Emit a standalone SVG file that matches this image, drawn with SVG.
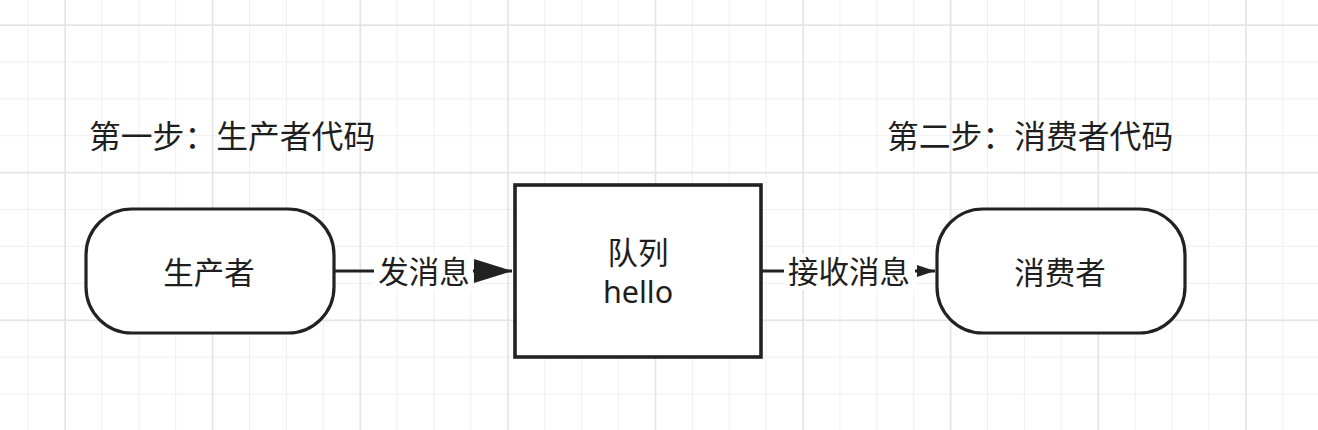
<svg xmlns="http://www.w3.org/2000/svg" width="1318" height="430" viewBox="0 0 1318 430">
<style>
.node{fill:#ffffff;stroke:#222222;stroke-width:3.2}
.t{font-family:"Noto Sans","Noto Sans CJK SC",sans-serif;font-size:30.5px;fill:#1e1e1e;text-anchor:middle}
.title{font-family:"Noto Sans CJK SC",sans-serif;font-size:31.8px;fill:#1e1e1e}
.edge{stroke:#222222;stroke-width:3;fill:none}
.lbg{fill:#ffffff}
</style>
<defs>
<pattern id="minor" patternUnits="userSpaceOnUse" x="46.55" y="6.55" width="36.9" height="36.9">
<rect x="17.95" y="0" width="1" height="36.9" fill="#efefef"/>
<rect x="0" y="17.95" width="36.9" height="1" fill="#efefef"/>
</pattern>
<pattern id="major" patternUnits="userSpaceOnUse" x="-8.8" y="-48.8" width="147.6" height="147.6">
<rect x="73.3" y="0" width="1.4" height="147.6" fill="#e3e3e3"/>
<rect x="0" y="73.3" width="147.6" height="1.4" fill="#e3e3e3"/>
</pattern>
<marker id="bigArrow" markerUnits="userSpaceOnUse" viewBox="0 0 38 24" refX="38" refY="12" markerWidth="38" markerHeight="24" orient="auto">
<path d="M0,0 L38,12 L0,24 Z" fill="#222222"/>
</marker>
<marker id="smallArrow" markerUnits="userSpaceOnUse" viewBox="0 0 18 12" refX="18" refY="6" markerWidth="18" markerHeight="12" orient="auto">
<path d="M0,0 L18,6 L0,12 Z" fill="#222222"/>
</marker>
</defs>
<rect width="1318" height="430" fill="#ffffff"/>
<rect width="1318" height="430" fill="url(#minor)"/>
<rect width="1318" height="430" fill="url(#major)"/>

<g id="title1"><text class="title" x="89" y="148">第一步：生产者代码</text></g>
<g id="title2"><text class="title" x="887" y="148">第二步：消费者代码</text></g>

<g id="connectors">
<g id="edge1">
<line class="edge" x1="334" y1="271" x2="512" y2="271" marker-end="url(#bigArrow)"/>
<rect class="lbg" x="374" y="254" width="99" height="36"/>
<text class="t" x="424" y="283">发消息</text>
</g>
<g id="edge2">
<line class="edge" x1="761" y1="271" x2="935" y2="271" marker-end="url(#smallArrow)"/>
<rect class="lbg" x="784" y="254" width="131" height="36"/>
<text class="t" x="849" y="283">接收消息</text>
</g>
</g>

<g id="producer">
<rect class="node" x="86" y="209" width="248" height="124" rx="46" ry="46"/>
<text class="t" x="209" y="284">生产者</text>
</g>
<g id="queue">
<rect class="node" x="515" y="185" width="246" height="172" style="stroke-width:3.6"/>
<text class="t" x="638" y="264">队列</text>
<text class="t" x="638" y="303">hello</text>
</g>
<g id="consumer">
<rect class="node" x="937" y="209" width="248" height="124" rx="46" ry="46"/>
<text class="t" x="1060" y="284">消费者</text>
</g>
</svg>
